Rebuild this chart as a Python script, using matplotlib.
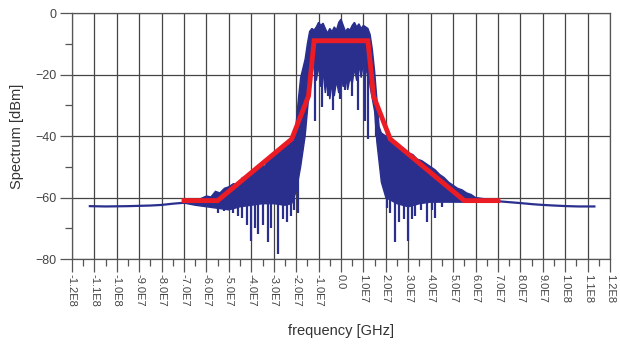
import numpy as np
import matplotlib
matplotlib.use("Agg")
from matplotlib import pyplot as plt
from matplotlib.ticker import MultipleLocator

plt.rcParams['font.family'] = ['Liberation Sans', 'DejaVu Sans']

# frequencies below are in units of 1e7 (converted when plotted)
# flat noise floor on both sides
floor_l_f = [-11.2, -10.5, -9.5, -8.5, -8.0, -7.5, -7.0]
floor_l_v = [-62.8, -62.9, -62.8, -62.6, -62.4, -62.0, -61.7]
floor_r_f = [7.0, 7.5, 8.0, 8.6, 9.0, 9.5, 10.1, 10.6, 11.3]
floor_r_v = [-61.2, -61.5, -61.8, -62.2, -62.4, -62.6, -62.8, -62.9, -62.9]

# upper edge of the dense blue spectrum
upper_f = [-7.0, -6.6, -6.3, -6.0, -5.8, -5.6, -5.4, -5.2, -5.0, -4.8, -4.6, -4.4,
           -4.2, -4.0, -3.8, -3.6, -3.4, -3.2, -3.0, -2.8, -2.6, -2.4, -2.2, -2.1,
           -2.0, -1.9, -1.8, -1.7, -1.6, -1.5, -1.4, -1.3, -1.2, -1.1, -1.0, -0.9,
           -0.8, -0.7, -0.6, -0.5, -0.4, -0.3, -0.2, -0.1, 0.0, 0.1, 0.2, 0.3, 0.4,
           0.5, 0.6, 0.7, 0.8, 0.9, 1.0, 1.1, 1.2, 1.3, 1.4, 1.5, 1.6, 1.7, 1.8,
           2.0, 2.2, 2.4, 2.6, 2.8, 3.0, 3.2, 3.4, 3.6, 3.8, 4.0, 4.2, 4.4, 4.6,
           4.8, 5.0, 5.2, 5.4, 5.6, 5.8, 6.0, 6.5, 7.0]
upper_v = [-61.7, -61.0, -60.5, -59.5, -59.8, -58.0, -58.5, -57.0, -56.5, -55.5, -55.8, -53.5,
           -53.8, -51.5, -51.0, -49.5, -49.8, -47.5, -47.0, -45.5, -44.0, -42.5, -41.0, -40.0,
           -36.0, -28.0, -21.0, -18.0, -15.0, -10.0, -6.0, -5.0, -5.5, -4.5, -3.0, -4.0,
           -3.3, -5.0, -6.5, -5.0, -6.0, -4.5, -5.5, -3.0, -2.0, -4.0, -6.0, -5.0, -5.5,
           -4.0, -3.0, -4.5, -3.5, -5.0, -4.0, -4.5, -5.0, -7.0, -12.0, -19.0, -28.0, -37.0, -39.0,
           -40.0, -41.5, -42.5, -43.5, -44.0, -45.5, -46.0, -47.5, -48.0, -49.0, -50.0, -51.0,
           -52.5, -53.5, -55.0, -56.0, -57.0, -57.5, -58.5, -59.0, -60.0, -60.5, -61.2]

# lower edge of the dense blue spectrum
lower_f = [-7.0, -6.5, -6.0, -5.5, -5.0, -4.5, -4.0, -3.5, -3.0, -2.5, -2.2, -2.0, -1.8,
           -1.6, -1.5, -1.4, -1.3, -1.2, -1.1, -1.0, -0.9, -0.8, -0.7, -0.6, -0.5, -0.4,
           -0.3, -0.2, -0.1, 0.0, 0.1, 0.2, 0.3, 0.4, 0.5, 0.6, 0.7, 0.8, 0.9, 1.0,
           1.1, 1.2, 1.3, 1.5, 1.6, 1.8, 2.0, 2.5, 3.0, 3.5, 4.0, 4.5, 5.0, 5.5, 6.0,
           6.5, 7.0]
lower_v = [-61.8, -62.5, -63.0, -63.5, -64.0, -63.0, -62.5, -62.0, -62.0, -62.5, -62.0, -58.0, -50.0,
           -40.0, -32.0, -24.0, -20.0, -16.0, -22.0, -17.0, -24.0, -19.0, -26.0, -21.0, -28.0, -23.0,
           -27.0, -22.0, -26.0, -21.0, -24.0, -20.0, -25.0, -21.0, -23.0, -18.0, -22.0, -17.0, -21.0, -16.0,
           -20.0, -17.0, -24.0, -32.0, -42.0, -55.0, -60.0, -62.0, -63.0, -62.0, -61.5, -61.5, -61.5, -61.5, -61.5,
           -61.5, -61.3]

# deep downward spikes (frequency, lowest value)
spike_f = [-5.5, -5.2, -4.8, -4.6, -4.4, -4.2, -4.0, -3.85, -3.7, -3.5, -3.25, -3.1, -2.8,
           -2.6, -2.4, -2.25, -2.1, -1.9, -1.75, -1.6, -1.15, -0.85, -0.57, -0.35, -0.04,
           0.19, 0.5, 0.77, 1.08, 1.2, 1.55, 2.05, 2.2, 2.42, 2.6, 2.8, 3.0, 3.15, 3.3,
           3.55, 3.85, 4.05, 4.2, 4.5]
spike_v = [-65.0, -64.5, -65.0, -66.0, -66.5, -69.0, -74.0, -70.0, -72.0, -69.0, -74.5, -70.0, -78.5,
           -67.0, -68.0, -66.0, -64.0, -65.0, -45.0, -38.0, -35.0, -30.5, -27.0, -31.5, -28.0,
           -25.0, -27.0, -31.5, -35.0, -41.0, -40.0, -63.5, -65.0, -74.5, -68.0, -67.0, -74.0, -67.0, -66.0,
           -64.0, -68.0, -64.0, -66.5, -63.0]

# red spectral mask
mask_f = [-7.0, -5.5, -2.2, -1.45, -1.2, 1.2, 1.45, 2.2, 5.5, 7.0]
mask_v = [-61, -61, -41, -27, -9, -9, -27, -41, -61, -61]

xtick_vals = np.arange(-12, 13)
xtick_labels = ['-1.2E8', '-1.1E8', '-1.0E8', '-9.0E7', '-8.0E7', '-7.0E7', '-6.0E7',
                '-5.0E7', '-4.0E7', '-3.0E7', '-2.0E7', '-1.0E7', '0.0', '1.0E7',
                '2.0E7', '3.0E7', '4.0E7', '5.0E7', '6.0E7', '7.0E7', '8.0E7', '9.0E7',
                '1.0E8', '1.1E8', '1.2E8']

blue = '#2a2f8e'
red = '#ec1c24'
grey = '#555555'
scale = 1e7

fig = plt.figure(figsize=(6.2, 3.44), dpi=100)
ax = fig.add_axes([0.116, 0.247, 0.868, 0.715])

ax.plot(np.array(floor_l_f) * scale, floor_l_v, color=blue, lw=1.6)
ax.plot(np.array(floor_r_f) * scale, floor_r_v, color=blue, lw=1.6)

uf = np.array(upper_f) * scale
lf = np.array(lower_f) * scale
ax.fill(np.concatenate([uf, lf[::-1]]), np.concatenate([upper_v, lower_v[::-1]]),
        color=blue, lw=1.0, ec=blue)
sf = np.array(spike_f) * scale
ax.vlines(sf, spike_v, np.interp(sf, lf, lower_v) + 3, color=blue, lw=1.6)

ax.plot(np.array(mask_f) * scale, mask_v, color=red, lw=3.5, solid_joinstyle='miter')

ax.set_xlim(-1.2e8, 1.2e8)
ax.set_ylim(-80, 0)
ax.set_xticks(xtick_vals * scale)
ax.set_xticklabels(xtick_labels, rotation=270, fontsize=8, color='#444444')
ax.xaxis.set_minor_locator(MultipleLocator(5e6))
ax.yaxis.set_major_locator(MultipleLocator(20))
ax.yaxis.set_minor_locator(MultipleLocator(10))
ax.tick_params(axis='y', labelsize=9, labelcolor='#444444')
ax.tick_params(which='major', length=9, width=0.9, color=grey, pad=2)
ax.tick_params(which='minor', length=5, width=0.9, color=grey)
ax.grid(True, which='major', color='#444444', lw=0.9)
ax.set_axisbelow(True)
for s in ax.spines.values():
    s.set_color(grey)
    s.set_linewidth(0.9)

ax.set_xlabel('frequency [GHz]', fontsize=10.5, color='#333333', labelpad=12)
ax.set_ylabel('Spectrum [dBm]', fontsize=10.5, color='#333333', labelpad=8)

fig.savefig('out.png', dpi=100)
